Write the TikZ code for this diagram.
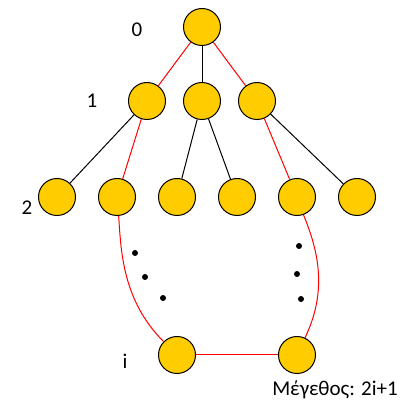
\documentclass[tikz,border=0pt]{standalone}
\usepackage{fontspec}
\setmainfont{Carlito}
\begin{document}
\begin{tikzpicture}[x=1pt,y=-1pt,
  vert/.style={circle,draw=black,fill=gold,line width=1pt,minimum size=37pt,inner sep=0pt},
  redline/.style={draw=red,line width=1pt},
  blkline/.style={draw=black,line width=1pt},
  lbl/.style={font=\fontsize{21}{25}\selectfont,inner sep=0pt},
  dotm/.style={circle,fill=black,inner sep=0pt,minimum size=6pt}]
\definecolor{gold}{HTML}{FFCC00}
\useasboundingbox (0,0) rectangle (408,403);
\node[vert] (r) at (202,27) {};
\node[vert] (a) at (147,101) {};
\node[vert] (b) at (202,101) {};
\node[vert] (c) at (257,101) {};
\node[vert] (d1) at (57,197) {};
\node[vert] (d2) at (117,197) {};
\node[vert] (d3) at (177,197) {};
\node[vert] (d4) at (237,197) {};
\node[vert] (d5) at (297,197) {};
\node[vert] (d6) at (357,197) {};
\node[vert] (e1) at (177,355) {};
\node[vert] (e2) at (297,355) {};
\draw[redline] (r) -- (a);
\draw[blkline] (r) -- (b);
\draw[redline] (r) -- (c);
\draw[blkline] (a) -- (d1);
\draw[redline] (a) -- (d2);
\draw[blkline] (b) -- (d3);
\draw[blkline] (b) -- (d4);
\draw[redline] (c) -- (d5);
\draw[blkline] (c) -- (d6);
\draw[redline] (d2.-85) .. controls (121,250) and (122,300) .. (e1.135);
\draw[redline] (d5.-70) .. controls (318,250) and (328,290) .. (e2.65);
\draw[redline] (e1.east) -- (e2.west);
\node[dotm] (p1) at (135,253) {};
\node[dotm] (p2) at (145,277) {};
\node[dotm] (p3) at (163,298) {};
\node[dotm] (q1) at (299,246) {};
\node[dotm] (q2) at (297,274) {};
\node[dotm] (q3) at (301,299) {};
\node[lbl] (l0) at (137,30) {0};
\node[lbl] (l1) at (92,101) {1};
\node[lbl] (l2) at (27,208) {2};
\node[lbl] (li) at (125,361) {i};
\node[lbl] (sz) at (335,390) {Μέγεθος: 2i+1};
\end{tikzpicture}
\end{document}
